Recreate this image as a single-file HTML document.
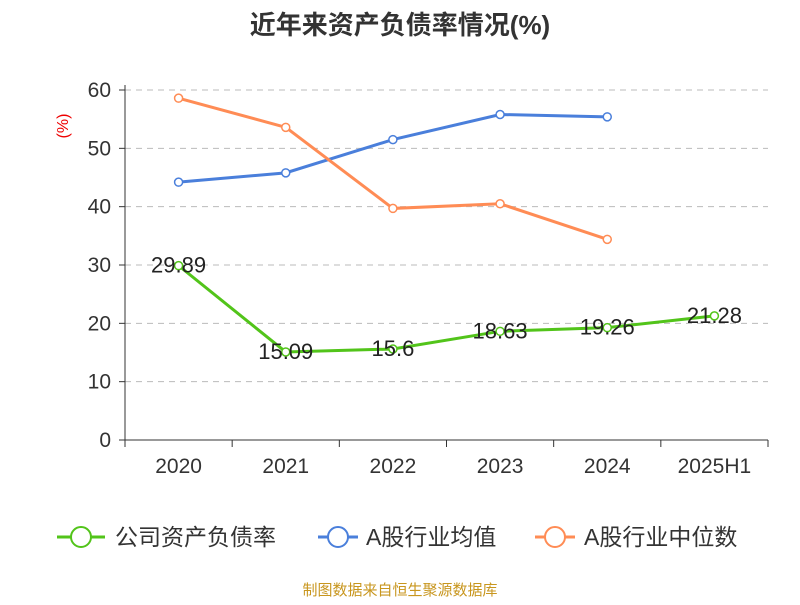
<!DOCTYPE html>
<html><head><meta charset="utf-8"><style>
body{margin:0;background:#fff;font-family:"Liberation Sans","Noto Sans CJK SC",sans-serif}
</style></head><body>
<svg id="chart" width="800" height="600" font-family="Liberation Sans, Noto Sans CJK SC, sans-serif">
<text x="400" y="34" text-anchor="middle" font-size="26" font-weight="bold" fill="#333">近年来资产负债率情况(%)</text>
<text x="68" y="126" transform="rotate(-90 68 126)" text-anchor="middle" font-size="16" fill="#e00">(%)</text>
<g id="grid"></g><g id="axes"></g><g id="series"></g>
<g font-size="23" fill="#333">
<g><line x1="57" y1="537" x2="105" y2="537" stroke="#52c41a" stroke-width="3"/><circle cx="81" cy="537" r="10" fill="#fff" stroke="#52c41a" stroke-width="2"/><text x="115" y="545">公司资产负债率</text></g>
<g><line x1="318" y1="537" x2="358" y2="537" stroke="#4a7fdb" stroke-width="3"/><circle cx="338" cy="537" r="10" fill="#fff" stroke="#4a7fdb" stroke-width="2"/><text x="366" y="545">A股行业均值</text></g>
<g><line x1="535" y1="537" x2="575" y2="537" stroke="#ff8c55" stroke-width="3"/><circle cx="555" cy="537" r="10" fill="#fff" stroke="#ff8c55" stroke-width="2"/><text x="584" y="545">A股行业中位数</text></g>
</g>
<text x="400" y="595" text-anchor="middle" font-size="15" fill="#c8961e">制图数据来自恒生聚源数据库</text>
</svg>
<script>
const categories=["2020","2021","2022","2023","2024","2025H1"];
const companyValues=[29.89,15.09,15.6,18.63,19.26,21.28];
const industryAvg=[44.2,45.8,51.5,55.8,55.4];
const industryMedian=[58.6,53.6,39.7,40.5,34.4];
const yTicks=[0,10,20,30,40,50,60];
const NS="http://www.w3.org/2000/svg";
const x0=125,x1=768,y0=440,y1=90,yMax=60;
const bw=(x1-x0)/categories.length;
const xs=i=>x0+bw*(i+0.5);
const ys=v=>y0-(v/yMax)*(y0-y1);
function mk(tag,attrs,parent){const e=document.createElementNS(NS,tag);for(const k in attrs)e.setAttribute(k,attrs[k]);parent.appendChild(e);return e;}
const grid=document.getElementById('grid'),axes=document.getElementById('axes'),ser=document.getElementById('series');
yTicks.forEach(t=>{
 if(t>0){const g=mk('line',{x1:x0,x2:x1,y1:ys(t),y2:ys(t),stroke:'#bbb','stroke-dasharray':'6,5'},grid);
 
 }
 const tk=mk('line',{x1:x0-6,x2:x0,y1:ys(t),y2:ys(t),stroke:'#333'},axes);
 
 
 const l=mk('text',{x:x0-14,y:ys(t)+7,'text-anchor':'end','font-size':21,fill:'#333'},axes);l.textContent=t;
 
 
});
const ya=mk('line',{x1:x0,x2:x0,y1:y1-5,y2:y0,stroke:'#333'},axes);


const xa=mk('line',{x1:x0,x2:x1,y1:y0,y2:y0,stroke:'#333'},axes);


for(let i=0;i<=categories.length;i++){const t=mk('line',{x1:x0+bw*i,x2:x0+bw*i,y1:y0,y2:y0+7,stroke:'#333'},axes);
 
 }
categories.forEach((c,i)=>{const l=mk('text',{x:xs(i),y:y0+33,'text-anchor':'middle','font-size':21,fill:'#333'},axes);l.textContent=c;
 
 });
function series(vals,color,name,labels){
 const p=mk('polyline',{points:vals.map((v,i)=>xs(i)+','+ys(v)).join(' '),fill:'none',stroke:color,'stroke-width':3},ser);
 
 
 vals.forEach((v,i)=>{const c=mk('circle',{cx:xs(i),cy:ys(v),r:4,fill:'#fff',stroke:color,'stroke-width':1.5},ser);
  
  
  if(labels){const t=mk('text',{x:xs(i),y:ys(v)+7,'text-anchor':'middle','font-size':22,fill:'#222'},ser);t.textContent=v;
   
   }
 });
}
series(industryAvg,'#4a7fdb','industry-average',false);
series(industryMedian,'#ff8c55','industry-median',false);
series(companyValues,'#52c41a','company',true);
</script>
</body></html>
